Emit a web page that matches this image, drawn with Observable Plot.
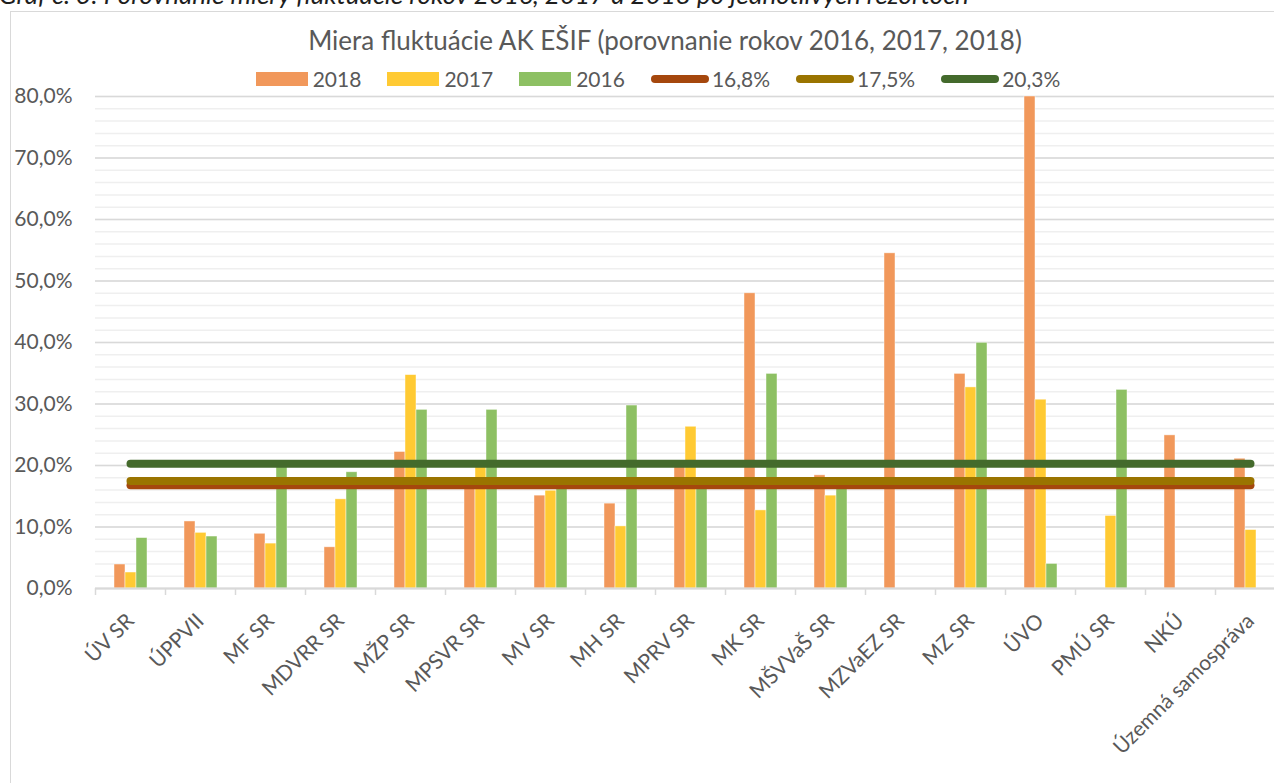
<!DOCTYPE html>
<html>
<head>
<meta charset="utf-8">
<script src="https://cdn.jsdelivr.net/npm/d3@7"></script>
<script src="https://cdn.jsdelivr.net/npm/@observablehq/plot@0.6"></script>
<style>
  html, body { margin: 0; padding: 0; overflow: hidden; background: #fff; }
  body { width: 1274px; height: 783px; position: relative; font-family: Lato, "Open Sans", sans-serif; }
  #frame { position: absolute; left: 10px; top: 11px; width: 1400px; height: 900px; border: 1px solid #d9d9d9; box-sizing: border-box; }
  #caption { position: absolute; left: -1px; top: -21px; font-style: italic; font-size: 26px; line-height: 1.2; color: #1e1e1e; white-space: nowrap; }
  #title { position: absolute; left: 0; width: 1330px; top: 25px; text-align: center; font-size: 26px; line-height: 1.2; color: #595959; white-space: nowrap; }
  #legend { position: absolute; left: 0; width: 1316px; top: 69px; display: flex; justify-content: center; align-items: center; gap: 26px; font-size: 21px; line-height: 20px; color: #595959; }
  .item { display: flex; align-items: center; }
  .sw { display: inline-block; width: 52px; height: 14px; margin-right: 5px; }
  .ln { display: inline-block; width: 58px; height: 8px; border-radius: 4px; margin-right: 3px; }
  .layer { position: absolute; left: 0; top: 0; }
</style>
</head>
<body>
<div id="frame"></div>
<div id="bars" class="layer"></div>
<div id="lines" class="layer"></div>
<div id="caption">Graf č. 3: Porovnanie miery fluktuácie rokov 2016, 2017 a 2018 po jednotlivých rezortoch</div>
<div id="title">Miera fluktuácie AK EŠIF (porovnanie rokov 2016, 2017, 2018)</div>
<div id="legend"></div>
<script>
// ---- data ----
const categories = ["ÚV SR", "ÚPPVII", "MF SR", "MDVRR SR", "MŽP SR", "MPSVR SR", "MV SR", "MH SR", "MPRV SR", "MK SR", "MŠVVaŠ SR", "MZVaEZ SR", "MZ SR", "ÚVO", "PMÚ SR", "NKÚ", "Územná samospráva"];
const series = ["2018", "2017", "2016"];
const values2018 = [3.9, 10.9, 8.9, 6.7, 22.2, 18.0, 15.1, 13.8, 20.4, 48.0, 18.4, 54.5, 34.9, 80.0, null, 24.9, 21.1];
const values2017 = [2.6, 9.05, 7.3, 14.5, 34.7, 20.0, 15.9, 10.1, 26.3, 12.7, 15.1, null, 32.7, 30.7, 11.8, null, 9.5];
const values2016 = [8.2, 8.45, 20.0, 18.9, 29.05, 29.05, 17.3, 29.75, 17.8, 34.9, 17.5, null, 39.95, 4.0, 32.3, null, null];
const refLabels = ["16,8%", "17,5%", "20,3%"];
const refValues = [16.8, 17.5, 20.3];
const yMajorTicks = [0, 10, 20, 30, 40, 50, 60, 70, 80];
const yMinorTicks = d3.range(0, 81, 2);

// ---- styles ----
const seriesColors = ["#f1985b", "#ffca33", "#8dc063"];
const refColors = ["#a5470d", "#9a7400", "#446a2c"];

const bySeries = [values2018, values2017, values2016];
const barData = series.flatMap((s, k) => categories.map((c, i) => ({cat: c, series: s, value: bySeries[k][i]})))
  .filter(d => d.value != null);
const lineData = refLabels.flatMap((r, k) => categories.map(c => ({cat: c, ref: r, value: refValues[k]})));

const W = 1290, H = 783, ML = 95, MR = 5, MT = 96, MB = 195;
const baseStyle = {fontFamily: "Lato, 'Open Sans', sans-serif", fontSize: "21px", color: "#595959", maxWidth: "none", background: "transparent", overflow: "visible"};
const fmt = d => d.toFixed(1).replace(".", ",") + "%";

const bars = Plot.plot({
  width: W, height: H, marginLeft: ML, marginRight: MR, marginTop: MT, marginBottom: MB,
  style: baseStyle,
  fx: {domain: categories, padding: 0, label: null},
  x: {domain: series, paddingInner: 0, paddingOuter: 1.42, axis: null},
  y: {domain: [0, 80], label: null},
  color: {domain: series, range: seriesColors},
  marks: [
    Plot.gridY(yMinorTicks, {stroke: "#efefef", strokeOpacity: 1, strokeWidth: 1.5}),
    Plot.gridY(yMajorTicks, {stroke: "#d9d9d9", strokeOpacity: 1, strokeWidth: 1.5}),
    Plot.barY(barData, {fx: "cat", x: "series", y: "value", fill: "series", stroke: "white", strokeWidth: 0.75, strokeOpacity: 0.6}),
    Plot.ruleY([0], {stroke: "#d9d9d9", strokeWidth: 2}),
    Plot.axisY(yMajorTicks, {tickSize: 0, tickPadding: 23, tickFormat: fmt, fontSize: 21, label: null}),
    Plot.axisFx({anchor: "bottom", tickSize: 0, tickPadding: 29, tickRotate: -45, fontSize: 21, label: null})
  ]
});
document.getElementById("bars").appendChild(bars);

const step = (W - ML - MR) / categories.length;
const lines = Plot.plot({
  width: W, height: H, marginLeft: ML, marginRight: MR, marginTop: MT, marginBottom: MB,
  style: baseStyle,
  x: {type: "band", domain: categories, padding: 0, label: null},
  y: {domain: [0, 80], axis: null},
  color: {domain: refLabels, range: refColors},
  marks: [
    Plot.axisX({tickSize: 7, tickFormat: () => "", dx: -step / 2, stroke: "#d9d9d9", strokeWidth: 1.5, label: null}),
    Plot.lineY(lineData, {x: "cat", y: "value", z: "ref", stroke: "ref", strokeWidth: 8, strokeLinecap: "round"})
  ]
});
document.getElementById("lines").appendChild(lines);

// ---- legend ----
const legend = document.getElementById("legend");
series.forEach((s, k) => {
  const it = document.createElement("div"); it.className = "item";
  it.innerHTML = `<span class="sw" style="background:${seriesColors[k]}"></span><span>${s}</span>`;
  legend.appendChild(it);
});
refLabels.forEach((r, k) => {
  const it = document.createElement("div"); it.className = "item";
  it.innerHTML = `<span class="ln" style="background:${refColors[k]}"></span><span>${r}</span>`;
  legend.appendChild(it);
});
</script>
</body>
</html>
